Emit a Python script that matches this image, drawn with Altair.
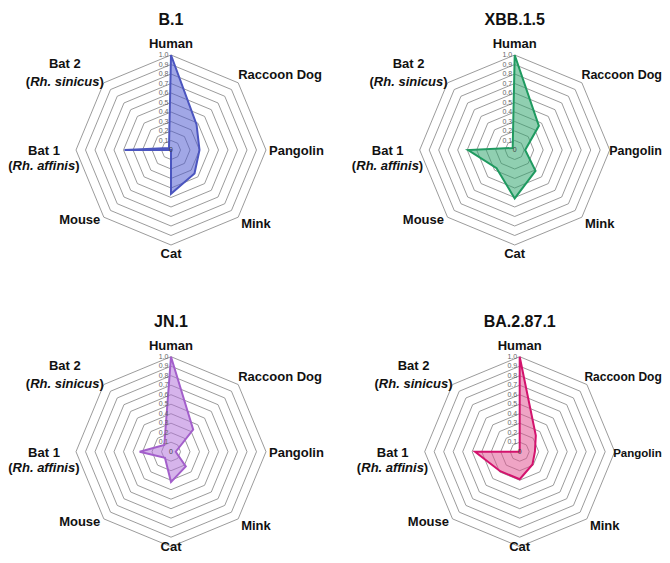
import altair as alt
import pandas as pd

# ---------------- data ----------------
axis_names = ["Human", "Raccoon Dog", "Pangolin", "Mink", "Cat", "Mouse", "Bat 1", "Bat 2"]
variants = ["B.1", "XBB.1.5", "JN.1", "BA.2.87.1"]
values_b1 = [1.0, 0.38, 0.30, 0.35, 0.46, 0.0, 0.49, 0.03]
values_xbb = [1.0, 0.36, 0.11, 0.31, 0.51, 0.27, 0.49, 0.03]
values_jn1 = [1.0, 0.33, 0.05, 0.22, 0.32, 0.09, 0.33, 0.10]
values_ba287 = [1.0, 0.24, 0.16, 0.19, 0.29, 0.29, 0.47, 0.0]
ring_levels = [0.1, 0.2, 0.3, 0.4, 0.5, 0.6, 0.7, 0.8, 0.9, 1.0]
tick_labels = ["0.1", "0.2", "0.3", "0.4", "0.5", "0.6", "0.7", "0.8", "0.9", "1.0"]
stroke_colors = ["#4b55bf", "#1f9a60", "#a35fcb", "#d3136d"]
fill_colors = ["#4b57d0", "#2aa36a", "#b070d8", "#e0508f"]

FONT = "Liberation Sans"
PX = 95.0  # pixels per unit radius


def geo(chart):
    return chart.transform_calculate(
        ang="datum.k * PI / 4"
    ).transform_calculate(
        x="datum.r * sin(datum.ang)", y="datum.r * cos(datum.ang)"
    )


def panel(title, values, stroke, fill, width, height, cx, cy, cat_dy=13,
          rd=(13, 0), pg=(13, 3)):
    xs = alt.Scale(domain=[-cx / PX, (width - cx) / PX], zero=False, nice=False)
    ys = alt.Scale(domain=[-(height - cy) / PX, cy / PX], zero=False, nice=False)
    X = alt.X("x:Q", scale=xs, axis=None)
    Y = alt.Y("y:Q", scale=ys, axis=None)

    ring_rows = [{"ring": r, "r": r, "k": k} for r in ring_levels for k in range(9)]
    rings = geo(alt.Chart(pd.DataFrame(ring_rows))).mark_line(
        stroke="#828282", strokeWidth=0.8
    ).encode(x=X, y=Y, detail="ring:N", order="k:Q")

    poly_rows = [{"k": k, "r": values[k % 8], "name": axis_names[k % 8]} for k in range(9)]
    poly = geo(alt.Chart(pd.DataFrame(poly_rows))).mark_line(
        stroke=stroke, strokeWidth=2, fill=fill, fillOpacity=0.52, strokeJoin="miter"
    ).encode(x=X, y=Y, order="k:Q")

    tick_rows = [{"k": 0, "r": r, "label": t} for r, t in zip(ring_levels, tick_labels)]
    ticks = geo(alt.Chart(pd.DataFrame(tick_rows))).mark_text(
        align="right", baseline="middle", dx=-2.5, fontSize=7, color="#666666", font=FONT
    ).encode(x=X, y=Y, text="label:N")

    zero = geo(alt.Chart(pd.DataFrame([{"k": 0, "r": 0.0, "label": "0"}]))).mark_text(
        align="center", baseline="middle", fontSize=7, color="#444444", font=FONT
    ).encode(x=X, y=Y, text="label:N")

    def lab(text, k, align, dx, dy, size=13, italic=False):
        kw = dict(align=align, baseline="alphabetic", dx=dx, dy=dy, fontSize=size,
                  fontWeight="bold", font=FONT, color="#111111", clip=True)
        if italic:
            kw["fontStyle"] = "italic"
        return geo(alt.Chart(pd.DataFrame([{"k": k, "r": 1.0, "label": text}]))).mark_text(
            **kw
        ).encode(x=X, y=Y, text="label:N")

    labels = [
        lab(title, 0, "center", 0, -30, size=16),
        lab(axis_names[0], 0, "center", 0, -7),
        lab(axis_names[1], 1, "left", rd[1], -4, size=rd[0]),
        lab(axis_names[2], 2, "left", pg[1], 5, size=pg[0]),
        lab(axis_names[3], 3, "left", 3, 11),
        lab(axis_names[4], 4, "center", 0, cat_dy),
        lab(axis_names[5], 5, "right", -3.5, 7),
        lab(axis_names[6], 6, "center", -32, 5),
        lab("(", 6, "right", -63.5, 20),
        lab("Rh. affinis", 6, "right", -0.8, 20, italic=True),
        lab(")", 6, "right", 3.5, 20),
        lab(axis_names[7], 7, "center", -39, -15),
        lab("(", 7, "right", -73.7, 3),
        lab("Rh. sinicus", 7, "right", -4.3, 3, italic=True),
        lab(")", 7, "right", 0, 3),
    ]

    return alt.layer(rings, poly, ticks, zero, *labels).properties(width=width, height=height)


p1 = panel(variants[0], values_b1, stroke_colors[0], fill_colors[0], 330, 270, 163, 142)
p2 = panel(variants[1], values_xbb, stroke_colors[1], fill_colors[1], 314, 270, 166.7, 142,
           rd=(12.5, -0.5), pg=(12.5, -0.5))
p3 = panel(variants[2], values_jn1, stroke_colors[2], fill_colors[2], 330, 267, 163, 163.7,
           cat_dy=4)
p4 = panel(variants[3], values_ba287, stroke_colors[3], fill_colors[3], 314, 267, 171.7, 163.7,
           cat_dy=4, rd=(12, -2.5), pg=(11.5, -1.5))

chart = alt.concat(p1, p2, p3, p4, columns=2, spacing=10, bounds="flush").properties(
    padding=0
).configure_view(stroke=None)

chart.save("out.html", embed_options={"renderer": "svg", "actions": False})
